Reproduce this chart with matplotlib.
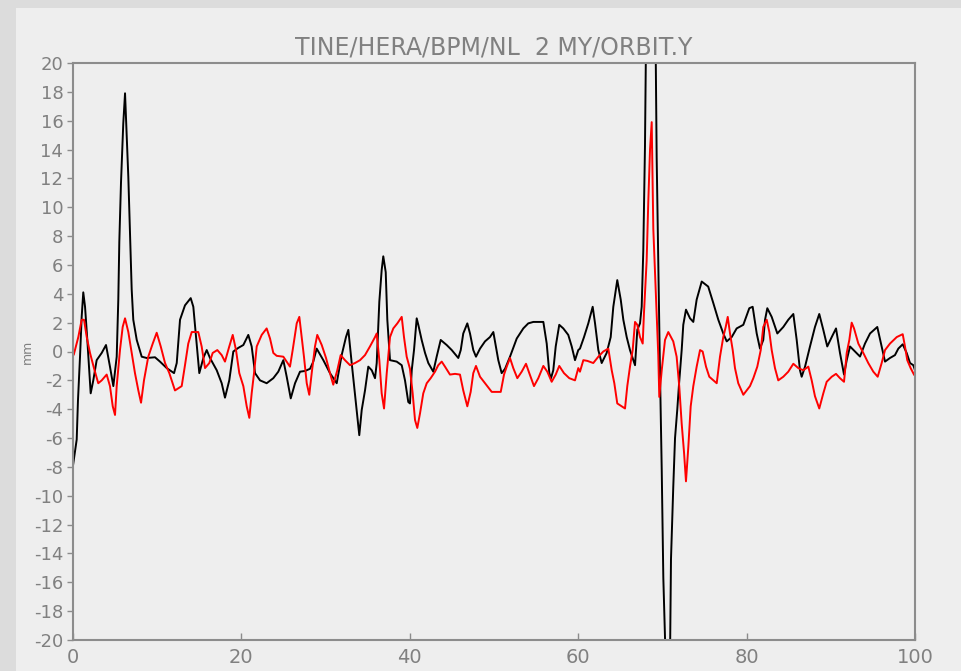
import matplotlib
matplotlib.use("Agg")
import matplotlib.pyplot as plt
from matplotlib.patches import Rectangle

plt.rcParams['font.family'] = ['DejaVu Sans']
plt.rcParams['axes.unicode_minus'] = False

title = "TINE/HERA/BPM/NL  2 MY/ORBIT.Y"
ylabel = "mm"
xticks = [0, 20, 40, 60, 80, 100]
yticks = list(range(-20, 21, 2))

# black trace (orbit)
black_x = [0.0, 0.44, 0.59, 0.83, 1.03, 1.22, 1.43, 1.70, 2.10, 2.41, 2.81, 3.41, 3.92, 4.39, 4.79,
           5.19, 5.38, 5.50, 5.70, 5.97, 6.18, 6.57, 6.77, 6.97, 7.16, 7.57, 8.16, 8.75, 9.74, 10.33,
           11.13, 12.0, 12.32, 12.71, 13.30, 13.98, 14.29, 14.61, 15.0, 15.48, 15.88, 16.27, 17.07,
           17.66, 18.05, 18.56, 19.04, 19.63, 20.23, 20.82, 21.22, 21.62, 22.21, 23.0, 23.79, 24.38,
           24.98, 25.38, 25.86, 26.37, 26.96, 27.55, 28.15, 28.54, 28.94, 29.73, 30.52, 31.32, 31.91,
           32.42, 32.70, 33.10, 33.61, 34.0, 34.29, 34.68, 35.07, 35.48, 35.87, 36.07, 36.38, 36.66,
           36.85, 37.14, 37.33, 37.65, 38.44, 39.04, 39.43, 39.82, 40.02, 40.23, 40.50, 40.82, 41.01,
           41.41, 41.81, 42.20, 42.79, 43.19, 43.67, 44.38, 44.98, 45.76, 46.05, 46.35, 46.83, 47.15,
           47.54, 47.86, 48.34, 48.93, 49.52, 49.92, 50.51, 50.91, 51.31, 51.90, 52.70, 53.48, 54.07,
           54.67, 55.86, 56.26, 56.57, 56.77, 57.04, 57.33, 57.75, 58.23, 58.82, 59.23, 59.62, 60.01,
           60.21, 60.69, 61.20, 61.72, 62.0, 62.39, 62.79, 63.38, 63.86, 64.17, 64.64, 65.05, 65.36,
           65.76, 66.15, 66.75, 67.02, 67.34, 67.54, 67.73, 67.93, 68.13, 69.12, 69.32, 69.51, 69.71,
           69.92, 70.11, 70.39, 70.90, 71.02, 71.29, 71.50, 71.77, 71.97, 72.29, 72.48, 72.80, 73.28,
           73.67, 74.07, 74.67, 75.44, 76.05, 76.64, 77.23, 77.64, 78.23, 78.82, 79.61, 80.32, 80.72,
           81.20, 81.59, 81.98, 82.19, 82.46, 82.98, 83.65, 84.36, 84.95, 85.55, 85.95, 86.34, 86.54,
           86.94, 87.53, 88.12, 88.63, 89.11, 89.58, 90.11, 90.62, 91.09, 91.57, 91.89, 92.28, 92.87,
           93.47, 94.06, 94.66, 95.52, 96.04, 96.44, 97.03, 97.62, 98.02, 98.54, 99.01, 99.41, 99.80,
           100.0]
black_y = [-7.9, -6.1, -3.4, -0.4, 2.4, 4.1, 3.1, 0.8, -2.9, -2.0, -0.6, -0.1, 0.45, -1.05, -2.4,
           -0.36, 3.6, 7.6, 11.7, 15.8, 17.9, 12.1, 8.2, 4.3, 2.2, 0.8, -0.36, -0.45, -0.4, -0.7,
           -1.15, -1.5, -0.8, 2.2, 3.2, 3.7, 3.1, 1.0, -1.5, -0.45, 0.1, -0.45, -1.3,
           -2.2, -3.2, -2.0, 0.0, 0.25, 0.45, 1.15, 0.35, -1.5, -2.0, -2.2, -1.85, -1.4,
           -0.6, -1.75, -3.25, -2.2, -1.4, -1.35, -1.2, -0.7, 0.2, -0.6, -1.5, -2.2, -0.25,
           1.0, 1.5, -0.8, -3.6, -5.8, -4.05, -2.7, -1.05, -1.3, -1.85, -0.8, 3.45, 5.65,
           6.6, 5.5, 2.2, -0.6, -0.7, -0.95, -2.0, -3.5, -3.6, -1.3, 0.1, 2.3, 1.85,
           0.8, -0.1, -0.8, -1.4, -0.36, 0.8, 0.45, 0.1, -0.45, 0.1, 1.25, 1.95, 1.25,
           0.1, -0.36, 0.2, 0.7, 1.0, 1.35, -0.6, -1.5, -1.2, -0.36, 0.9, 1.6, 1.95,
           2.05, 2.05, 0.55, -1.5, -1.85, -1.3, 0.35, 1.85, 1.6, 1.15, 0.35, -0.6, 0.1,
           0.2, 1.0, 1.95, 3.1, 1.95, 0.1, -0.8, -0.1, 1.0, 3.1, 4.95, 3.6, 2.2,
           1.0, 0.1, -0.95, 1.5, 1.95, 3.1, 7.0, 14.2, 26.0, 26.0, 13.4, 6.1, -1.3,
           -8.2, -15.7, -21.5, -21.5, -14.4, -9.4, -6.0, -4.0, -2.3, 0.1, 1.85, 2.9, 2.3,
           2.05, 3.6, 4.85, 4.5, 3.35, 2.2, 1.25, 0.7, 1.0, 1.6, 1.85, 3.0, 3.1,
           1.25, 0.2, 0.8, 2.2, 3.0, 2.4, 1.25, 1.7, 2.2, 2.6, 0.8, -1.3, -1.75,
           -1.05, 0.35, 1.7, 2.6, 1.5, 0.35, 1.0, 1.6, -0.1, -1.6, -0.6, 0.35, 0.0,
           -0.35, 0.55, 1.25, 1.7, 0.35, -0.7, -0.45, -0.25, 0.2, 0.5, -0.1, -0.8, -0.95,
           -1.3]

# red trace (reference)
red_x = [0.1, 0.63, 1.03, 1.31, 1.63, 2.02, 2.49, 3.0, 3.41, 4.0, 4.39, 4.72, 4.99, 5.19, 5.58,
         5.90, 6.18, 6.57, 6.97, 7.36, 7.76, 8.08, 8.43, 8.94, 9.47, 9.94, 10.42, 10.93, 11.44,
         12.11, 12.91, 13.30, 13.69, 14.10, 14.88, 15.28, 15.68, 16.19, 16.59, 17.14, 17.66, 18.05,
         18.56, 18.97, 19.36, 19.75, 20.23, 20.63, 20.94, 21.22, 21.50, 21.82, 22.41, 23.0, 23.40,
         23.79, 24.19, 24.98, 25.77, 26.09, 26.57, 26.88, 27.16, 27.43, 27.76, 28.06, 28.35, 28.74,
         29.01, 29.54, 30.05, 30.52, 30.91, 31.39, 31.79, 32.30, 32.90, 33.49, 34.09, 34.68, 35.27,
         35.87, 36.07, 36.38, 36.66, 36.94, 37.26, 37.65, 38.04, 38.52, 39.04, 39.31, 39.63, 40.02,
         40.34, 40.62, 40.89, 41.21, 41.60, 42.01, 42.48, 42.99, 43.38, 43.79, 44.18, 44.77, 45.37,
         45.96, 46.35, 46.83, 47.23, 47.54, 47.86, 48.34, 48.93, 49.73, 50.80, 51.19, 51.51, 51.90,
         52.29, 52.77, 53.29, 53.80, 54.19, 54.75, 55.26, 55.86, 56.33, 56.85, 57.33, 57.75, 58.31,
         58.94, 59.62, 60.01, 60.21, 60.61, 61.08, 61.79, 62.39, 62.98, 63.58, 63.98, 64.29, 64.64,
         65.17, 65.56, 65.83, 66.15, 66.47, 66.75, 67.02, 67.34, 67.66, 67.81, 68.13, 68.32, 68.53,
         68.73, 68.92, 69.24, 69.51, 69.63, 69.92, 70.31, 70.70, 71.29, 71.69, 72.0, 72.29, 72.57,
         72.80, 73.08, 73.36, 73.67, 74.07, 74.47, 74.78, 75.18, 75.57, 76.05, 76.45, 76.84, 77.23,
         77.52, 77.76, 78.03, 78.35, 78.62, 79.01, 79.61, 80.01, 80.40, 80.80, 81.27, 81.68, 81.98,
         82.39, 82.70, 82.98, 83.37, 83.76, 84.36, 84.95, 85.55, 86.14, 86.73, 87.33, 87.73, 88.12,
         88.63, 89.11, 89.51, 90.11, 90.62, 91.09, 91.57, 91.89, 92.20, 92.48, 92.76, 93.27, 93.86,
         94.45, 95.05, 95.57, 96.04, 96.44, 97.03, 97.83, 98.54, 98.81, 99.08, 99.48, 99.88]
red_y = [-0.2, 1.0, 2.2, 2.2, 1.0, -0.1, -1.15, -2.2, -2.0, -1.6, -2.4, -3.8, -4.4, -2.4, 0.1,
         1.7, 2.3, 1.35, -0.1, -1.5, -2.7, -3.55, -2.0, -0.36, 0.55, 1.3, 0.35, -0.8, -1.5,
         -2.7, -2.4, -0.95, 0.55, 1.35, 1.35, 0.35, -1.15, -0.8, -0.1, 0.1, -0.25, -0.7,
         0.35, 1.15, 0.1, -1.5, -2.4, -3.8, -4.6, -2.9, -1.5, 0.35, 1.15, 1.6, 0.9,
         -0.1, -0.3, -0.36, -1.05, 0.1, 1.95, 2.4, 1.0, -0.36, -2.2, -3.0, -1.5, 0.35,
         1.15, 0.45, -0.45, -1.5, -2.3, -1.3, -0.25, -0.6, -0.95, -0.8, -0.6, -0.25, 0.35,
         1.0, 1.25, -0.6, -2.9, -3.95, -1.5, 1.0, 1.6, 1.95, 2.4, 1.0, -0.36, -1.2,
         -2.9, -4.75, -5.3, -4.3, -2.9, -2.2, -1.85, -1.4, -0.95, -0.7, -1.05, -1.6, -1.55,
         -1.6, -2.7, -3.8, -2.8, -1.5, -1.0, -1.75, -2.2, -2.8, -2.8, -1.6, -1.05, -0.45,
         -1.15, -1.85, -1.4, -0.85, -1.5, -2.4, -1.85, -1.0, -1.4, -2.1, -1.6, -1.0, -1.5,
         -1.85, -2.0, -1.15, -1.4, -0.6, -0.65, -0.8, -0.36, 0.0, 0.2, -1.3, -2.2, -3.6,
         -3.8, -3.95, -2.4, -1.05, 0.1, 2.05, 1.85, 1.0, 0.55, 2.65, 6.3, 10.3, 14.0,
         15.9, 8.5, 3.7, -0.25, -3.15, -1.3, 0.8, 1.35, 0.7, -0.36, -2.4, -5.0, -7.0,
         -9.0, -6.6, -3.8, -2.4, -1.05, 0.1, 0.0, -1.05, -1.75, -2.0, -2.2, -0.36, 1.0,
         1.7, 2.4, 1.25, 0.1, -1.15, -2.2, -3.0, -2.7, -2.4, -1.85, -1.05, 0.1, 1.7,
         2.2, 1.35, 0.1, -1.15, -2.0, -1.75, -1.4, -0.85, -1.15, -1.3, -1.05, -2.0, -3.1,
         -3.95, -2.9, -2.1, -1.75, -1.55, -1.85, -2.1, -0.1, 0.8, 2.0, 1.6, 0.55, -0.1,
         -0.8, -1.4, -1.75, -0.8, 0.1, 0.55, 1.0, 1.2, 0.35, -0.6, -1.15, -1.6]

W, H = 962, 671
fig = plt.figure(figsize=(W / 100, H / 100), dpi=100)
fig.patch.set_facecolor('#dcdcdc')
fig.patches.append(Rectangle((16 / W, 0), 1 - 16 / W, 1 - 8 / H, transform=fig.transFigure,
                             facecolor='#eeeeee', edgecolor='none', zorder=-10))

ax = fig.add_axes([73 / W, 31 / H, 842 / W, 577 / H])
ax.set_facecolor('#eeeeee')

ax.plot(black_x, black_y, color='black', lw=1.4)
ax.plot(red_x, red_y, color='#ff0000', lw=1.4)

ax.set_xlim(0, 100)
ax.set_ylim(-20, 20)
ax.set_xticks(xticks)
ax.set_yticks(yticks)

grey = '#808080'
for s in ax.spines.values():
    s.set_color('#8c8c8c')
    s.set_linewidth(1.5)
ax.tick_params(axis='x', direction='in', length=5, width=1, color='#8c8c8c',
               labelcolor=grey, labelsize=14, pad=6)
ax.tick_params(axis='y', direction='out', length=4, width=1, color='#8c8c8c',
               labelcolor=grey, labelsize=13, pad=3)

ax.set_title(title, color=grey, fontsize=17, pad=6)
ax.set_ylabel(ylabel, color=grey, fontsize=9)
ax.yaxis.set_label_coords(-0.047, 0.5)

fig.savefig('out.png', dpi=100, facecolor=fig.get_facecolor())
